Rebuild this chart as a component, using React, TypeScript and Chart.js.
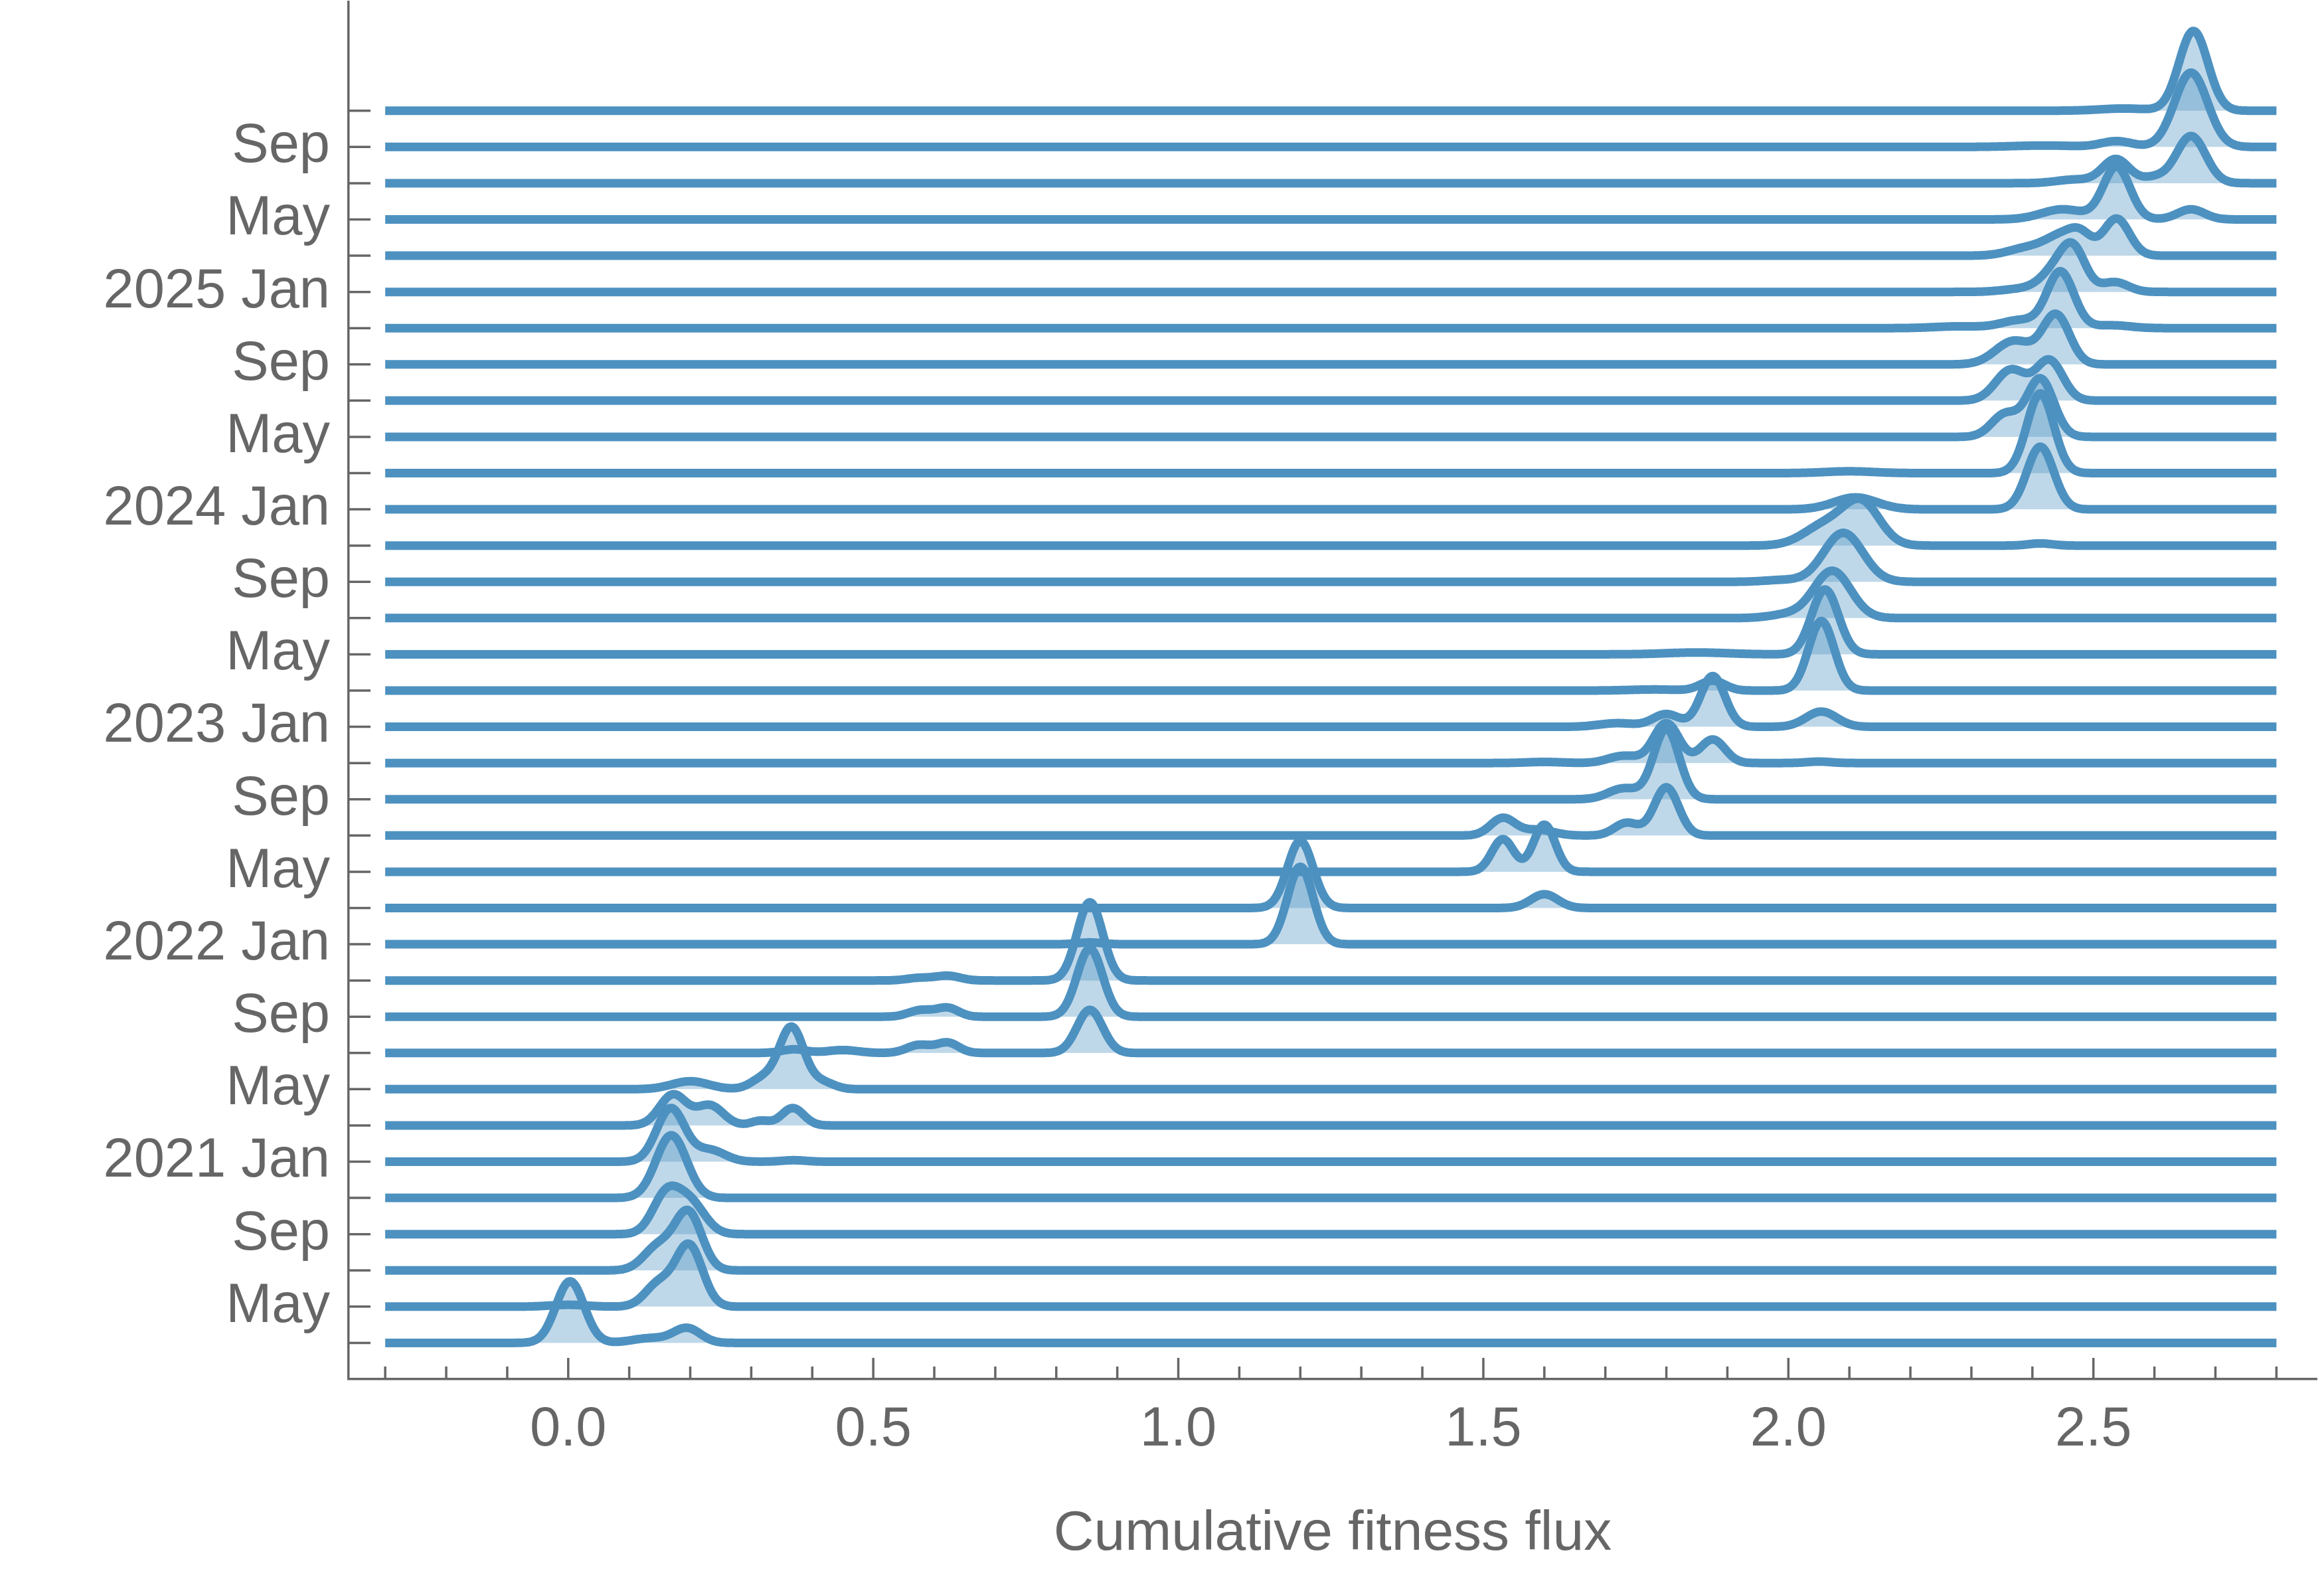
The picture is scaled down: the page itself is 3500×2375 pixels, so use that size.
import React, { useEffect, useRef } from "react";
import { Chart, registerables } from "chart.js";

Chart.register(...registerables);

// Row labels (one row every two months, Mar 2020 .. Nov 2025)
const rowLabels: string[] = [
  "", "May", "", "Sep", "", "2021 Jan", "", "May", "", "Sep", "", "2022 Jan",
  "", "May", "", "Sep", "", "2023 Jan", "", "May", "", "Sep", "", "2024 Jan",
  "", "May", "", "Sep", "", "2025 Jan", "", "May", "", "Sep", "",
];

// Density components for each row:
// [position on fitness-flux axis, height in row units, kernel width]
const ridges: number[][][] = [
  [[0.003, 1.7, 0.023], [0.195, 0.4, 0.022], [0.135, 0.13, 0.03]],
  [[0.0, 0.05, 0.03], [0.148, 0.62, 0.022], [0.198, 1.69, 0.022]],
  [[0.148, 0.66, 0.024], [0.197, 1.58, 0.022]],
  [[0.16, 1.05, 0.022], [0.2, 0.85, 0.024]],
  [[0.169, 1.73, 0.025]],
  [[0.168, 1.47, 0.023], [0.232, 0.32, 0.025], [0.37, 0.04, 0.02]],
  [[0.172, 0.85, 0.022], [0.232, 0.55, 0.022], [0.315, 0.13, 0.015], [0.368, 0.48, 0.018]],
  [[0.2, 0.22, 0.03], [0.32, 0.3, 0.02], [0.366, 1.7, 0.02], [0.415, 0.2, 0.02]],
  [[0.37, 0.1, 0.02], [0.45, 0.08, 0.025], [0.575, 0.22, 0.02], [0.622, 0.28, 0.018], [0.855, 1.19, 0.021]],
  [[0.578, 0.18, 0.02], [0.622, 0.24, 0.018], [0.855, 1.88, 0.021]],
  [[0.575, 0.07, 0.02], [0.622, 0.13, 0.02], [0.855, 2.16, 0.021]],
  [[0.855, 0.05, 0.02], [1.2, 2.14, 0.021]],
  [[1.2, 1.85, 0.021], [1.6, 0.38, 0.022]],
  [[1.532, 0.9, 0.018], [1.6, 1.3, 0.018]],
  [[1.532, 0.48, 0.02], [1.59, 0.16, 0.025], [1.735, 0.35, 0.02], [1.8, 1.33, 0.02]],
  [[1.73, 0.3, 0.025], [1.8, 1.95, 0.021]],
  [[1.6, 0.03, 0.03], [1.73, 0.2, 0.025], [1.8, 1.1, 0.021], [1.876, 0.65, 0.02], [2.05, 0.04, 0.02]],
  [[1.72, 0.1, 0.03], [1.8, 0.35, 0.022], [1.876, 1.4, 0.02], [2.054, 0.42, 0.025]],
  [[1.78, 0.03, 0.04], [1.876, 0.27, 0.02], [2.054, 1.92, 0.021]],
  [[1.85, 0.05, 0.05], [2.06, 1.79, 0.022]],
  [[2.0, 0.1, 0.03], [2.072, 1.3, 0.03]],
  [[1.99, 0.05, 0.03], [2.09, 1.35, 0.032]],
  [[2.06, 0.55, 0.035], [2.12, 1.15, 0.03], [2.413, 0.06, 0.02]],
  [[2.11, 0.33, 0.035], [2.413, 1.73, 0.022]],
  [[2.1, 0.05, 0.04], [2.413, 2.2, 0.022]],
  [[2.355, 0.62, 0.022], [2.413, 1.6, 0.022]],
  [[2.365, 0.85, 0.025], [2.428, 1.1, 0.022]],
  [[2.37, 0.65, 0.03], [2.439, 1.35, 0.022]],
  [[2.28, 0.05, 0.04], [2.38, 0.22, 0.03], [2.446, 1.55, 0.022], [2.53, 0.08, 0.03]],
  [[2.38, 0.08, 0.03], [2.44, 0.6, 0.025], [2.468, 1.0, 0.02], [2.535, 0.27, 0.022]],
  [[2.39, 0.2, 0.03], [2.45, 0.55, 0.028], [2.48, 0.4, 0.018], [2.538, 1.02, 0.021]],
  [[2.45, 0.28, 0.035], [2.538, 1.45, 0.022], [2.66, 0.28, 0.022]],
  [[2.47, 0.1, 0.03], [2.537, 0.66, 0.022], [2.6, 0.15, 0.02], [2.66, 1.3, 0.024]],
  [[2.42, 0.04, 0.05], [2.538, 0.16, 0.025], [2.66, 2.05, 0.027]],
  [[2.55, 0.06, 0.04], [2.664, 2.2, 0.0235]],
];

const xTickValues: number[] = [0, 0.5, 1.0, 1.5, 2.0, 2.5];
const xMinorTickValues: number[] = [
  -0.3, -0.2, -0.1, 0.0, 0.1, 0.2, 0.3, 0.4, 0.5, 0.6, 0.7, 0.8, 0.9, 1.0, 1.1, 1.2,
  1.3, 1.4, 1.5, 1.6, 1.7, 1.8, 1.9, 2.0, 2.1, 2.2, 2.3, 2.4, 2.5, 2.6, 2.7, 2.8,
];
const xRange: number[] = [-0.3, 2.8];

const LINE = "rgb(77,145,192)";
const FILL = "rgba(77,145,192,0.355)";
const AXIS = "#666666";
const FONT = "'Liberation Sans', Arial, Helvetica, sans-serif";

function densityAt(peaks: number[][], x: number): number {
  let s = 0;
  for (const [c, h, w] of peaks) {
    const d = (x - c) / w;
    s += h * Math.exp(-0.5 * d * d);
  }
  return s;
}

export default function App() {
  const ref = useRef<HTMLCanvasElement | null>(null);

  useEffect(() => {
    document.body.style.margin = "0";
    const canvas = ref.current;
    if (!canvas) return;

    const step = 0.0025;
    const n = Math.round((xRange[1] - xRange[0]) / step);
    const xs: number[] = [];
    for (let k = 0; k <= n; k++) xs.push(xRange[0] + k * step);

    const datasets = ridges.map((peaks, i) => ({
      label: rowLabels[i],
      data: xs.map((x) => ({ x, y: i + densityAt(peaks, x) })),
      borderColor: LINE,
      backgroundColor: FILL,
      borderWidth: 13,
      borderCapStyle: "butt" as const,
      borderJoinStyle: "round" as const,
      fill: { value: i },
      pointRadius: 0,
      pointHoverRadius: 0,
      tension: 0,
    }));

    const inwardTicks = {
      id: "inwardTicks",
      afterDraw(chart: any) {
        const { ctx, chartArea } = chart;
        const xs2 = chart.scales.x;
        const ys2 = chart.scales.y;
        ctx.save();
        ctx.strokeStyle = AXIS;
        ctx.lineWidth = 3.5;
        ctx.lineCap = "butt";
        ctx.beginPath();
        for (const v of xMinorTickValues) {
          const px = xs2.getPixelForValue(v);
          const major = xTickValues.some((t) => Math.abs(t - v) < 1e-6);
          const len = major ? 32 : 19;
          ctx.moveTo(px, chartArea.bottom);
          ctx.lineTo(px, chartArea.bottom - len);
        }
        for (let i = 0; i < rowLabels.length; i++) {
          const py = ys2.getPixelForValue(i);
          ctx.moveTo(chartArea.left, py);
          ctx.lineTo(chartArea.left + 33, py);
        }
        ctx.stroke();
        ctx.restore();
      },
    };

    const chart = new Chart(canvas, {
      type: "line",
      data: { datasets: datasets as any },
      options: {
        animation: false,
        responsive: true,
        maintainAspectRatio: false,
        devicePixelRatio: 1,
        events: [],
        layout: { padding: { top: 3, right: 11, left: 0, bottom: 0 } },
        plugins: {
          legend: { display: false },
          tooltip: { enabled: false },
          title: { display: false },
        },
        scales: {
          x: {
            type: "linear",
            min: -0.36,
            max: 2.866,
            grid: { display: false, drawTicks: false },
            border: { display: true, color: AXIS, width: 3.5 },
            afterBuildTicks: (s: any) => {
              s.ticks = xTickValues.map((v) => ({ value: v }));
            },
            afterFit: (s: any) => {
              s.height = 298;
              s.paddingLeft = 0;
              s.paddingRight = 0;
            },
            ticks: {
              autoSkip: false,
              maxRotation: 0,
              padding: 27,
              color: AXIS,
              font: { family: FONT, size: 83 },
              callback: (v: any) => Number(v).toFixed(1),
            },
            title: {
              display: true,
              text: "Cumulative fitness flux",
              color: AXIS,
              font: { family: FONT, size: 84 },
              padding: { top: 0, bottom: 14 },
            },
          },
          y: {
            type: "linear",
            min: -1,
            max: 37,
            grid: { display: false, drawTicks: false },
            border: { display: true, color: AXIS, width: 3.5 },
            afterBuildTicks: (s: any) => {
              s.ticks = rowLabels.map((_, i) => ({ value: i }));
            },
            afterFit: (s: any) => {
              s.width = 525;
              s.paddingTop = 0;
              s.paddingBottom = 0;
            },
            ticks: {
              autoSkip: false,
              padding: 28,
              labelOffset: 0,
              color: AXIS,
              font: { family: FONT, size: 83 },
              callback: (v: any) => rowLabels[Math.round(Number(v))] ?? "",
            },
          },
        },
      },
      plugins: [inwardTicks],
    });

    return () => chart.destroy();
  }, []);

  return (
    <div style={{ position: "relative", width: 3500, height: 2375 }}>
      <canvas ref={ref} />
    </div>
  );
}
